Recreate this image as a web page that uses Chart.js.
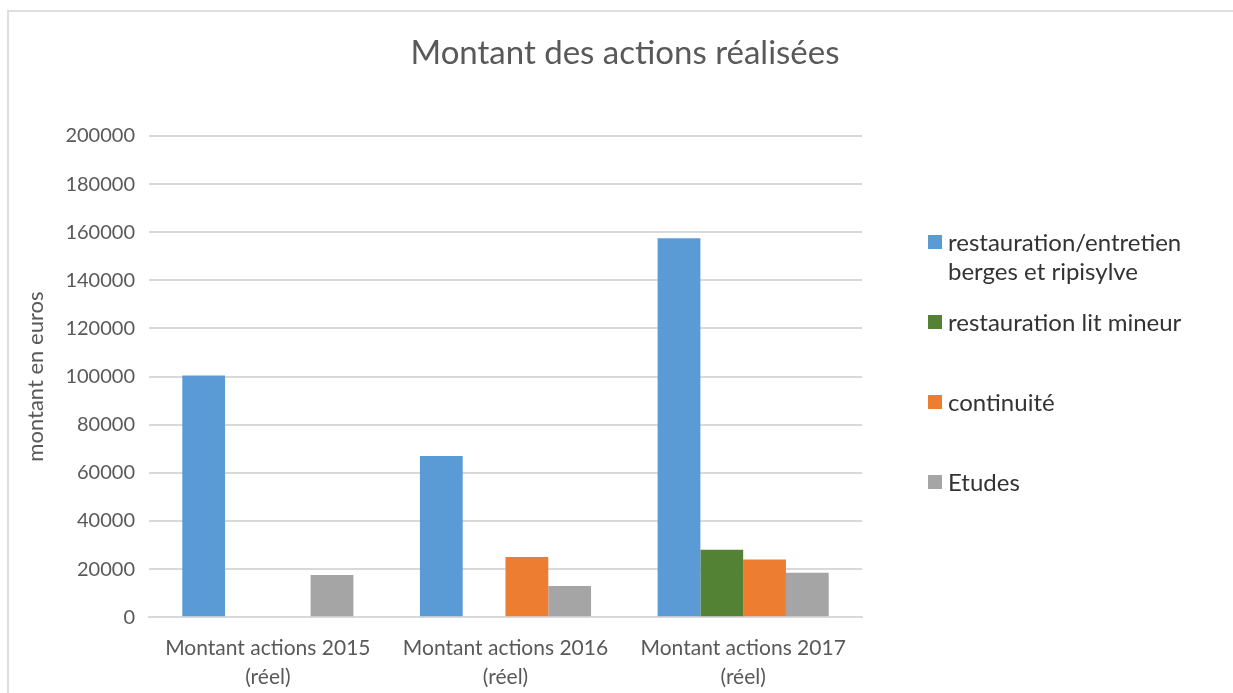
<!DOCTYPE html>
<html>
<head>
<meta charset="utf-8">
<script src="https://cdn.jsdelivr.net/npm/chart.js@4"></script>
<style>
  html, body { margin: 0; padding: 0; background: #fff; }
  #wrap { position: relative; width: 1233px; height: 693px; overflow: hidden; }
  #frame { position: absolute; left: 7px; top: 10px; right: -4px; bottom: -4px;
           border-left: 2px solid #dedede; border-top: 2px solid #dedede; }
  #chartBox { position: absolute; left: 0; top: 0; width: 1233px; height: 710px; }
  #title { position: absolute; left: 0; width: 1250px; top: 31px; text-align: center;
           font-family: Lato, "Open Sans", sans-serif; font-size: 33px; color: #595959; line-height: 40px; }
  #legend { position: absolute; left: 928px; top: 227px; font-family: Lato, "Open Sans", sans-serif;
            font-size: 24px; color: #333; }
  #legend .item { position: absolute; left: 0; white-space: nowrap; line-height: 29px; }
  #legend .sw { position: absolute; left: 0; top: 8px; width: 14px; height: 14px; }
  #legend .txt { position: absolute; left: 20px; top: 0; }
</style>
</head>
<body>
<div id="wrap">
  <div id="frame"></div>
  <div id="chartBox"><canvas id="montantChart" width="1233" height="710"></canvas></div>
  <div id="title">Montant des actions réalisées</div>
  <div id="legend"></div>
</div>
<script>
const categories = [
    ['Montant actions 2015', '(réel)'],
    ['Montant actions 2016', '(réel)'],
    ['Montant actions 2017', '(réel)']
];
const seriesNames = ['restauration/entretien berges et ripisylve', 'restauration lit mineur', 'continuité', 'Etudes'];
const legendLines = [['restauration/entretien', 'berges et ripisylve'], ['restauration lit mineur'], ['continuité'], ['Etudes']];
const bergesRipisylve = [100500, 67000, 157500];
const litMineur = [null, null, 28000];
const continuite = [null, 25000, 24000];
const etudes = [17500, 13000, 18500];
const yTicks = [0, 20000, 40000, 60000, 80000, 100000, 120000, 140000, 160000, 180000, 200000];
const colors = ['#5b9bd5', '#548235', '#ed7d31', '#a5a5a5'];

const fontFam = 'Lato, "Open Sans", sans-serif';
const allSeries = [bergesRipisylve, litMineur, continuite, etudes];

const ctx = document.getElementById('montantChart').getContext('2d');
new Chart(ctx, {
    type: 'bar',
    data: {
        labels: categories,
        datasets: allSeries.map((d, i) => ({
            label: seriesNames[i],
            data: d,
            backgroundColor: colors[i],
            borderWidth: 0,
            categoryPercentage: 0.72,
            barPercentage: 1.0
        }))
    },
    options: {
        responsive: false,
        animation: false,
        layout: { padding: { left: 23, right: 371, top: 136, bottom: 2 } },
        plugins: {
            legend: { display: false },
            tooltip: { enabled: false },
            title: { display: false }
        },
        scales: {
            x: {
                grid: { display: false, drawTicks: false },
                border: { display: true, color: '#d9d9d9', width: 2 },
                ticks: {
                    color: '#595959',
                    font: { family: fontFam, size: 21, lineHeight: 1.4 },
                    padding: 16,
                    maxRotation: 0
                }
            },
            y: {
                min: 0,
                max: 200000,
                afterBuildTicks: (axis) => { axis.ticks = yTicks.map(v => ({ value: v })); },
                grid: { color: '#d9d9d9', lineWidth: 2, drawTicks: false },
                border: { display: false },
                ticks: {
                    color: '#595959',
                    font: { family: fontFam, size: 20 },
                    padding: 14,
                    callback: v => String(v)
                },
                title: {
                    display: true,
                    text: 'montant en euros',
                    color: '#595959',
                    font: { family: fontFam, size: 22 },
                    padding: { top: 0, bottom: 2 }
                }
            }
        }
    }
});

// legend built from the series names / colours
const legendTops = [0, 80, 160, 240];
const legend = document.getElementById('legend');
legendLines.forEach((lines, i) => {
    const item = document.createElement('div');
    item.className = 'item';
    item.style.top = legendTops[i] + 'px';
    const sw = document.createElement('div');
    sw.className = 'sw';
    sw.style.background = colors[i];
    const txt = document.createElement('div');
    txt.className = 'txt';
    txt.innerHTML = lines.join('<br>');
    item.appendChild(sw);
    item.appendChild(txt);
    legend.appendChild(item);
});
</script>
</body>
</html>
